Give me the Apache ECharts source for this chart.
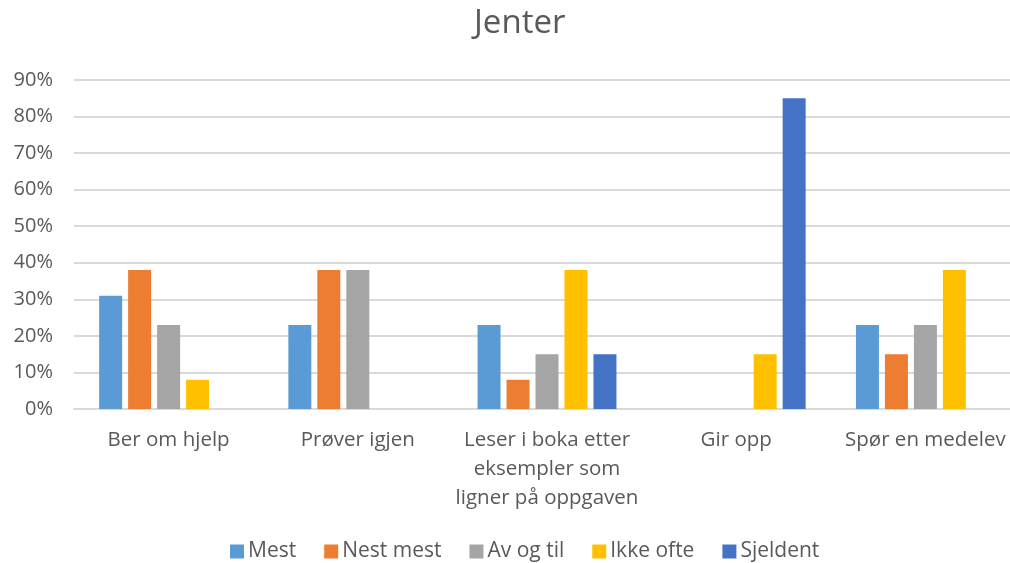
<!DOCTYPE html>
<html>
<head>
<meta charset="utf-8">
<script src="https://cdn.jsdelivr.net/npm/echarts@6/dist/echarts.min.js"></script>
<style>
  html, body { margin: 0; padding: 0; background: #fff; overflow: hidden; }
  #chart { width: 1010px; height: 563px; }
</style>
</head>
<body>
<div id="chart"></div>
<script>
// Categories (question answers) and percentages per response frequency
const categories = [
  'Ber om hjelp',
  'Prøver igjen',
  'Leser i boka etter\neksempler som\nligner på oppgaven',
  'Gir opp',
  'Spør en medelev'
];
const seriesNames = ['Mest', 'Nest mest', 'Av og til', 'Ikke ofte', 'Sjeldent'];
const mest     = [31, 23, 23, 0, 23];
const nestMest = [38, 38, 8, 0, 15];
const avOgTil  = [23, 38, 15, 0, 23];
const ikkeOfte = [8, 0, 38, 15, 38];
const sjeldent = [0, 0, 15, 85, 0];
const colors = ['#5B9BD5', '#ED7D31', '#A5A5A5', '#FFC000', '#4472C4'];

const values = [mest, nestMest, avOgTil, ikkeOfte, sjeldent];
const font = '"Open Sans", sans-serif';

const chart = echarts.init(document.getElementById('chart'));
chart.setOption({
  animation: false,
  title: {
    text: 'Jenter',
    left: 474,
    top: 4,
    padding: 0,
    textStyle: { fontFamily: font, fontSize: 33, fontWeight: 'normal', color: '#595959', lineHeight: 40 }
  },
  legend: {
    top: 541,
    left: 230,
    padding: 0,
    itemWidth: 14,
    itemHeight: 14,
    itemGap: 28,
    icon: 'rect',
    textStyle: { fontFamily: font, fontSize: 21, color: '#595959', padding: [0, 0, 0, -1] },
    data: seriesNames
  },
  // plot area runs slightly past the right edge of the canvas
  grid: { left: 74, width: 946, top: 80, bottom: 154, outerBoundsMode: 'none' },
  xAxis: {
    type: 'category',
    data: categories,
    axisLine: { lineStyle: { color: '#D9D9D9', width: 2 } },
    axisTick: { show: false },
    axisLabel: {
      fontFamily: font, fontSize: 20.5, color: '#595959',
      lineHeight: 29, margin: 17, interval: 0
    }
  },
  yAxis: {
    type: 'value',
    min: 0, max: 90, interval: 10,
    axisLine: { show: false },
    axisTick: { show: false },
    splitLine: { lineStyle: { color: '#D9D9D9', width: 2 } },
    axisLabel: {
      fontFamily: font, fontSize: 20, color: '#595959', margin: 21,
      formatter: v => v + '%'
    }
  },
  series: seriesNames.map((name, i) => ({
    name,
    type: 'bar',
    data: values[i],
    barWidth: 23,
    barGap: '26%',
    itemStyle: { color: colors[i] }
  }))
});
</script>
</body>
</html>
